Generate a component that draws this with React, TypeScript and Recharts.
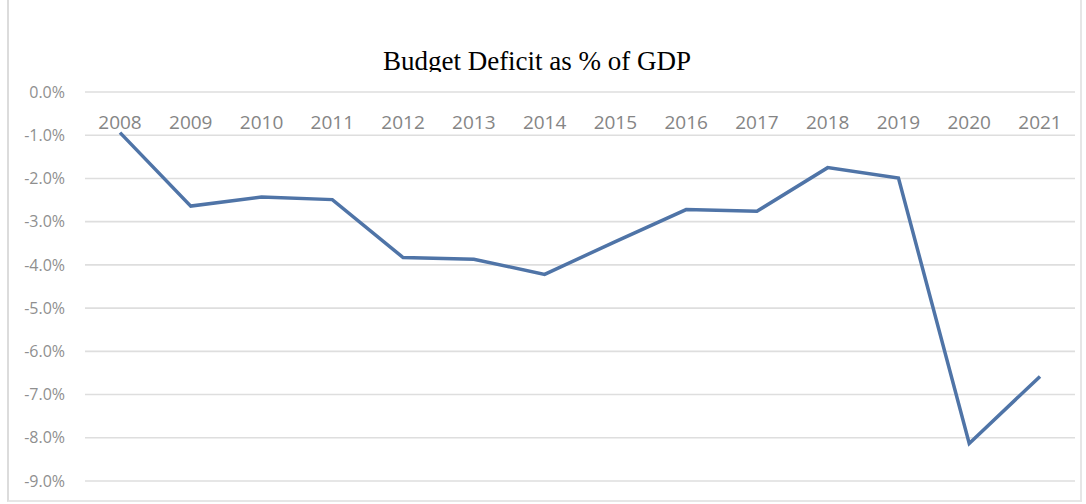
import { LineChart, Line, XAxis, YAxis, CartesianGrid } from "recharts";

const years = ["2008", "2009", "2010", "2011", "2012", "2013", "2014", "2015", "2016", "2017", "2018", "2019", "2020", "2021"];
const deficit = [-0.94, -2.64, -2.43, -2.49, -3.83, -3.87, -4.22, -3.46, -2.72, -2.76, -1.75, -1.99, -8.13, -6.58];
const yTicks = [0, -1, -2, -3, -4, -5, -6, -7, -8, -9];

const data = years.map((year, i) => ({ year, value: deficit[i] }));

const TICK_FONT = "'Open Sans', 'DejaVu Sans', sans-serif";

// x labels sit just below the 0% line, like Excel's axis crossing at zero
function YearTick(props: any) {
  const { x, y, payload } = props;
  return (
    <text x={x} y={y + 30} textAnchor="middle" dominantBaseline="central" fill="#858585" fontSize={19} fontFamily={TICK_FONT}>
      {payload.value}
    </text>
  );
}

export default function App() {
  return (
    <div style={{ position: "absolute", left: 0, top: 0, width: 1086, height: 504, background: "#fff", overflow: "hidden" }}>
      {/* frame of the chart object (top edge is cut off) */}
      <div
        style={{
          position: "absolute",
          left: 7,
          top: -2,
          width: 1075,
          height: 504,
          borderLeft: "2px solid #dcdcdc",
          borderRight: "2px solid #e6e6e6",
          borderBottom: "2px solid #e6e6e6",
          boxSizing: "border-box",
        }}
      />
      <div style={{ position: "absolute", left: 0, top: 0 }}>
        <LineChart width={1086} height={504} data={data} margin={{ top: 62, right: 11, bottom: 23, left: 15 }}>
          <CartesianGrid horizontal vertical={false} stroke="#dedede" strokeWidth={1.6} />
          <XAxis
            dataKey="year"
            orientation="top"
            height={30}
            padding={{ left: 35, right: 35 }}
            axisLine={false}
            tickLine={false}
            tickSize={0}
            tickMargin={0}
            interval={0}
            tick={<YearTick />}
          />
          <YAxis
            type="number"
            domain={[-9, 0]}
            ticks={yTicks}
            interval={0}
            width={70}
            axisLine={false}
            tickLine={false}
            tickSize={0}
            tickMargin={20}
            tickFormatter={(v: number) => `${v.toFixed(1)}%`}
            tick={{ fill: "#8f8f8f", fontSize: 16, fontFamily: TICK_FONT }}
          />
          <Line
            type="linear"
            dataKey="value"
            stroke="#4f74a7"
            strokeWidth={3.5}
            dot={false}
            activeDot={false}
            isAnimationActive={false}
          />
        </LineChart>
      </div>
      {/* title, clipped at the bottom as in the source image */}
      <div style={{ position: "absolute", left: 0, top: 40, width: 1086, height: 32, overflow: "hidden" }}>
        <div
          style={{
            position: "absolute",
            left: 537,
            top: 6,
            transform: "translateX(-50%)",
            whiteSpace: "nowrap",
            fontFamily: "'Liberation Serif', 'DejaVu Serif', serif",
            fontSize: 27,
            lineHeight: "30px",
            color: "#000",
          }}
        >
          Budget Deficit as % of GDP
        </div>
      </div>
    </div>
  );
}
